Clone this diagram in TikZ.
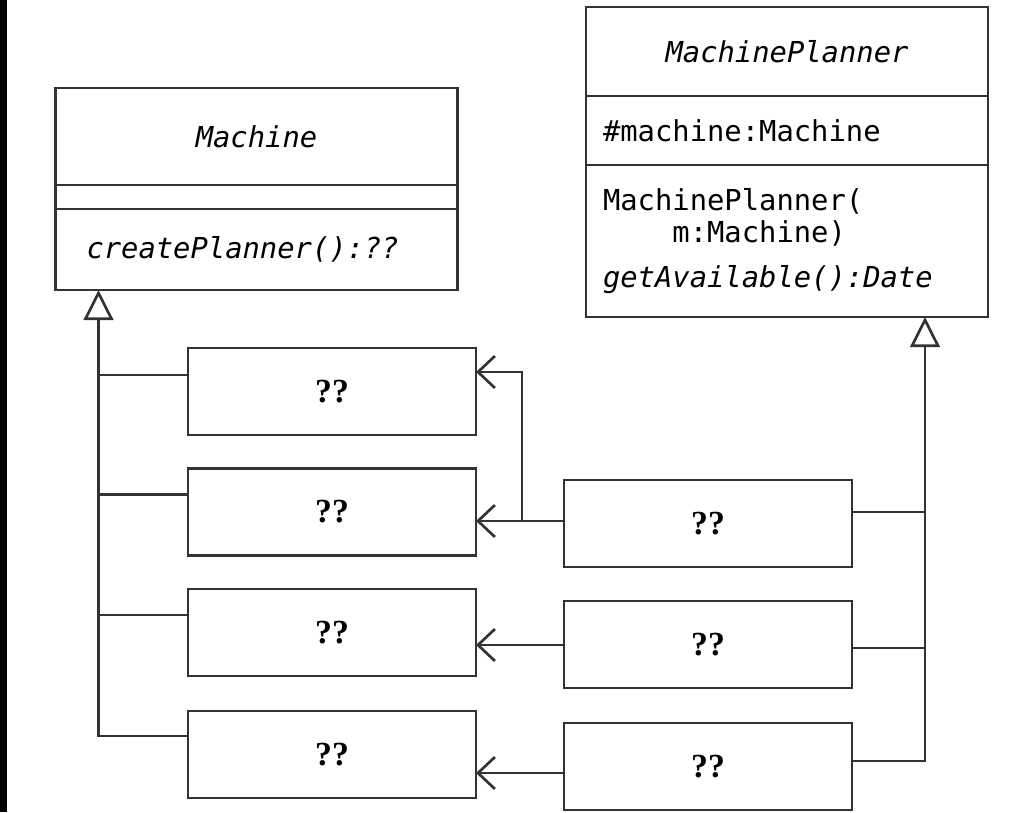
\documentclass[tikz,border=0pt]{standalone}
\usepackage{fontspec}
\setmainfont{Liberation Serif}
\setmonofont{DejaVu Sans Mono}
\usetikzlibrary{arrows.meta,positioning,calc}
\definecolor{umlline}{gray}{0.2}
\newcommand{\umlfont}{\fontsize{20.5}{22.8}\selectfont\ttfamily}
\newcommand{\qqfont}{\fontsize{24}{28}\selectfont\bfseries}

\begin{document}
\begin{tikzpicture}[
  line width=1.9pt,
  part/.style={draw=umlline,outer sep=0pt,inner sep=0pt,minimum width=10.05cm,font=\umlfont},
  cls/.style={draw=umlline,outer sep=0pt,minimum width=7.2cm,minimum height=2.175cm,font=\qqfont},
  wire/.style={color=umlline},
  gen/.style={wire,-{Triangle[open,length=0.75cm,width=0.74cm]}},
  nav/.style={wire,-{Straight Barb[length=0.425cm,width=0.8cm]}}]
  \useasboundingbox (0,0) rectangle (25.7,-20.3);
  \fill (0,0) rectangle (0.175,-20.3);
  \node[part,minimum height=2.425cm,font=\umlfont\itshape] (mname) at (6.4125,-3.4125) {Machine};
  \node[part,minimum height=0.6cm,below=0pt of mname] (mattr) {};
  \node[part,minimum height=2.025cm,inner xsep=0.775cm,text width=8.5cm,align=left,
        font=\umlfont\itshape,below=0pt of mattr] (mops) {createPlanner():??};
  \node[part,minimum height=2.225cm,font=\umlfont\itshape] (pname) at (19.675,-1.2875) {MachinePlanner};
  \node[part,minimum height=1.725cm,inner xsep=0.425cm,text width=9.2cm,align=left,
        below=0pt of pname] (pattr) {\#machine:Machine};
  \node[part,minimum height=3.8cm,inner xsep=0.425cm,text width=9.2cm,align=left,
        below=0pt of pattr] (pops) {MachinePlanner(\\\phantom{xxxx}m:Machine)\\[0.33cm]\textit{getAvailable():Date}};
  \node[cls] (lb1) at (8.3,-9.7875)  {??};
  \node[cls] (lb2) at (8.3,-12.8)    {??};
  \node[cls] (lb3) at (8.3,-15.8125) {??};
  \node[cls] (lb4) at (8.3,-18.8625) {??};
  \node[cls] (rb1) at (17.7,-13.0875) {??};
  \node[cls] (rb2) at (17.7,-16.1125) {??};
  \node[cls] (rb3) at (17.7,-19.1625) {??};
  \draw[gen] ([yshift=-0.625cm]lb4.north west) -| ([xshift=1.075cm]mops.south west);
  \draw[wire] ([yshift=-0.675cm]lb1.north west) -- ++(-2.24,0);
  \draw[wire] ([yshift=-0.65cm]lb2.north west) -- ++(-2.24,0);
  \draw[wire] ([yshift=-0.65cm]lb3.north west) -- ++(-2.24,0);
  \draw[gen] ([yshift=-0.95cm]rb3.north east) -| ([xshift=-1.575cm]pops.south east);
  \draw[wire] ([yshift=-0.8cm]rb1.north east) -- ++(1.825,0);
  \draw[wire] ([yshift=-1.175cm]rb2.north east) -- ++(1.825,0);
  \draw[nav] ([yshift=-1.025cm]rb1.north west) coordinate (n1) -- (n1 -| lb2.east);
  \draw[nav] ([xshift=-1.05cm]n1) |- ([yshift=-0.6cm]lb1.north east);
  \draw[nav] ([yshift=-1.1cm]rb2.north west) coordinate (n2) -- (n2 -| lb3.east);
  \draw[nav] ([yshift=-1.25cm]rb3.north west) coordinate (n3) -- (n3 -| lb4.east);
\end{tikzpicture}
\end{document}
